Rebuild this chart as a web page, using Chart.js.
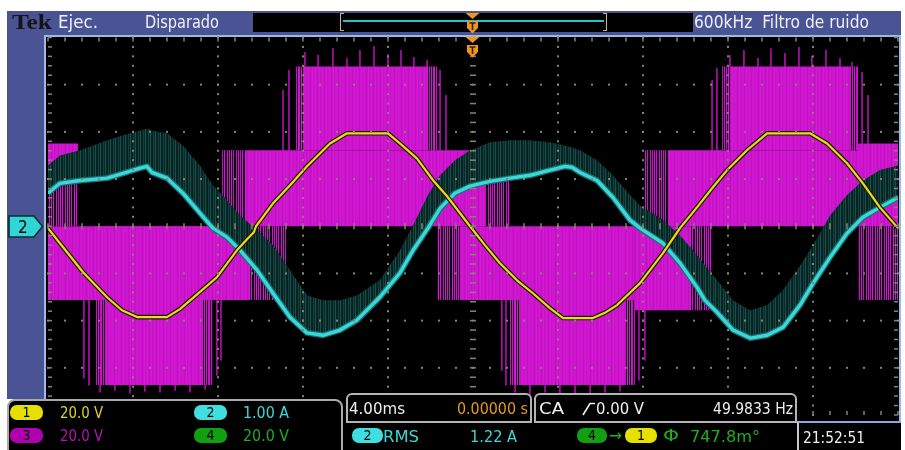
<!DOCTYPE html>
<html><head><meta charset="utf-8">
<title>Tek scope</title>
<script src="https://cdn.jsdelivr.net/npm/chart.js@4.4.1/dist/chart.umd.min.js"></script>
<style>
html,body{margin:0;padding:0;background:#fff;}
#wrap{position:relative;width:905px;height:450px;overflow:hidden;background:#fff;}
.b{position:absolute;}
.t{position:absolute;white-space:nowrap;line-height:1;font-family:"DejaVu Sans Condensed","Liberation Sans Narrow","DejaVu Sans",sans-serif;transform-origin:0 0;}
.pill{position:absolute;height:15px;border-radius:7px;color:#000;font-family:"DejaVu Sans Condensed","DejaVu Sans",sans-serif;font-size:14px;line-height:15px;text-align:center;}
</style></head><body>
<div id="wrap">
 <div class="b" style="left:7px;top:11px;width:894px;height:24px;background:#4a5494"></div>
 <div class="b" style="left:7px;top:11px;width:38px;height:388px;background:#4a5494"></div>
 <div class="b" style="left:44px;top:35px;width:853px;height:389px;background:#000;border:2px solid #9db9e6;border-bottom:none;"></div>
 <canvas id="c" width="905" height="450" class="b" style="left:0;top:0"></canvas>

 <!-- header -->
 <div class="b" style="left:253px;top:13px;width:440px;height:19px;background:#000"></div>
 <div class="b" style="left:343px;top:20px;width:261px;height:2px;background:#22c4c4"></div>
 <div class="b" style="left:340px;top:13px;width:4px;height:18px;border:1.5px solid #c9b49a;border-right:none;box-sizing:border-box"></div>
 <div class="b" style="left:603px;top:13px;width:4px;height:18px;border:1.5px solid #c9b49a;border-left:none;box-sizing:border-box"></div>
 <svg class="b" style="left:465px;top:13px" width="15" height="21" viewBox="0 0 15 21"><path d="M0.5 0 L14.5 0 L7.5 6 Z" fill="#f0961a"/><path d="M2 8 L13 8 L13 15 L7.5 20.5 L2 15 Z" fill="#f0961a"/><path d="M4.5 10 L10.5 10 M7.5 10 L7.5 17" stroke="#3a2000" stroke-width="1.6"/></svg>
 <svg class="b" style="left:465px;top:37px" width="15" height="21" viewBox="0 0 15 21"><path d="M0.5 0 L14.5 0 L7.5 6 Z" fill="#f0961a"/><path d="M2 8 L13 8 L13 15 L7.5 20.5 L2 15 Z" fill="#f0961a"/><path d="M4.5 10 L10.5 10 M7.5 10 L7.5 17" stroke="#3a2000" stroke-width="1.6"/></svg>
 <span class="t" data-w="40" style="left:12px;top:12px;font-size:21px;font-family:'Liberation Serif','DejaVu Serif',serif;font-weight:bold;color:#141414">Tek</span>
 <span class="t" data-w="40" style="left:58px;top:14px;font-size:17px;color:#eef0fa">Ejec.</span>
 <span class="t" data-w="74" style="left:145px;top:14px;font-size:17px;color:#eef0fa">Disparado</span>
 <span class="t" data-w="175" style="left:694px;top:14px;font-size:17px;color:#eef0fa">600kHz&nbsp; Filtro de ruido</span>

 <!-- ch2 marker -->
 <svg class="b" style="left:8px;top:215px" width="36" height="23" viewBox="0 0 36 23"><polygon points="1,1 26,1 34.5,11.5 26,22 1,22" fill="#30d6d6" stroke="#0b2e2e" stroke-width="1.6"/><text x="10" y="18" font-size="17" font-family="DejaVu Sans Condensed, DejaVu Sans, sans-serif" fill="#000">2</text></svg>

 <!-- bottom readouts -->
 <div class="b" style="left:7px;top:399px;width:332px;height:60px;background:#000;border:2px solid #a9a9a9;border-radius:8px 8px 0 0"></div>
 <div class="b" style="left:346px;top:393px;width:182px;height:26px;background:#000;border:2px solid #b4b4b4;border-radius:6px 6px 0 0"></div>
 <div class="b" style="left:534px;top:393px;width:259px;height:26px;background:#000;border:2px solid #b4b4b4;border-radius:6px 6px 0 0"></div>
 <div class="b" style="left:343px;top:423px;width:455px;height:27px;background:#000"></div>
 <div class="b" style="left:797px;top:421px;width:104px;height:29px;background:#000;border-left:2px solid #c8c8c8;border-top:2px solid #8fa6df;box-sizing:border-box"></div>

 <div class="pill" style="left:10px;top:405px;width:33px;background:#e6e000">1</div>
 <div class="pill" style="left:10px;top:428px;width:33px;background:#b000b0">3</div>
 <div class="pill" style="left:194px;top:405px;width:33px;background:#40dede">2</div>
 <div class="pill" style="left:194px;top:428px;width:33px;background:#12a012">4</div>
 <div class="pill" style="left:352px;top:428px;width:31px;background:#40dede">2</div>
 <div class="pill" style="left:577px;top:428px;width:30px;background:#12a012">4</div>
 <div class="pill" style="left:625px;top:428px;width:32px;background:#e6e000">1</div>

 <span class="t" data-w="43" style="left:60px;top:406px;font-size:15px;color:#ddd51e">20.0 V</span>
 <span class="t" data-w="46" style="left:243px;top:406px;font-size:15px;color:#3ad8d8">1.00 A</span>
 <span class="t" data-w="43" style="left:60px;top:429px;font-size:15px;color:#b414b4">20.0 V</span>
 <span class="t" data-w="46" style="left:243px;top:429px;font-size:15px;color:#1eae1e">20.0 V</span>
 <span class="t" data-w="56" style="left:349px;top:401px;font-size:16px;color:#f0f0f0">4.00ms</span>
 <span class="t" data-w="71" style="left:457px;top:401px;font-size:16px;color:#e69a1e">0.00000 s</span>
 <span class="t" data-w="25" style="left:539px;top:401px;font-size:16px;color:#f0f0f0">CA</span>
 <svg class="b" style="left:582px;top:402px" width="14" height="14" viewBox="0 0 14 14"><path d="M1 13 L8 1.5 L13 1.5" stroke="#f0f0f0" stroke-width="1.6" fill="none"/></svg>
 <span class="t" data-w="48" style="left:596px;top:401px;font-size:16px;color:#f0f0f0">0.00 V</span>
 <span class="t" data-w="80" style="left:713px;top:401px;font-size:16px;color:#f0f0f0">49.9833 Hz</span>
 <span class="t" data-w="36" style="left:383px;top:429px;font-size:16px;color:#3ad8d8">RMS</span>
 <span class="t" data-w="47" style="left:470px;top:429px;font-size:16px;color:#3ad8d8">1.22 A</span>
 <span class="t" data-w="13" style="left:609px;top:428px;font-size:16px;color:#1eae1e">→</span>
 <span class="t" data-w="16" style="left:663px;top:428px;font-size:16px;color:#1eae1e">Φ</span>
 <span class="t" data-w="70" style="left:690px;top:429px;font-size:16px;color:#1eae1e">747.8m°</span>
 <span class="t" data-w="62" style="left:803px;top:430px;font-size:16px;color:#f0f0f0">21:52:51</span>
</div>
<script>
// ---------- data (time in ms, values in V / A) ----------
const ch1VoltsPerDiv = 20, ch2AmpsPerDiv = 1, ch3VoltsPerDiv = 20;

// Ch1 (yellow) voltage
const ch1Time = [-20.0,-19.44,-18.35,-17.22,-16.52,-15.81,-14.40,-13.79,-13.08,-12.05,-11.11,-10.59,-10.31,-10.21,-9.41,-8.61,-7.81,-6.73,-5.93,-4.00,-3.44,-2.64,-1.88,-1.22,-0.14,0.56,1.27,2.07,2.82,3.62,4.24,5.65,6.26,6.78,7.86,8.94,9.74,10.54,11.25,11.95,12.89,13.84,15.86,16.66,17.60,18.35,19.15,20.0];
const ch1Volts = [-0.8,-7.2,-19.5,-30.1,-35.6,-38.5,-38.5,-35.1,-29.6,-21.6,-10.2,-5.1,-2.5,0,9.7,17.4,25.4,35.1,39.4,39.4,35.1,28.8,19.5,12.7,0,-8.0,-15.7,-22.9,-28.4,-34.7,-38.9,-38.9,-36.4,-33.4,-24.1,-11.4,-0.8,8.0,16.1,23.7,32.2,39.4,39.4,35.1,26.7,18.2,8.0,-0.8];

// Ch2 (cyan) current and the upper edge of its switching noise
const ch2Time = [-20.0,-19.44,-18.49,-17.22,-16.47,-15.67,-15.34,-15.11,-14.40,-13.65,-12.85,-12.24,-11.58,-10.96,-10.16,-9.41,-8.61,-7.81,-7.06,-6.26,-5.46,-4.38,-3.44,-2.82,-2.12,-1.55,-0.85,-0.14,0.80,1.74,2.68,3.62,4.33,4.66,5.04,5.84,6.59,7.39,7.86,8.94,9.74,10.54,10.92,11.48,12.24,13.04,13.84,14.59,15.39,16.00,16.80,17.60,18.35,19.15,20.0];
const ch2Amps = [0.70,0.91,0.97,1.02,1.12,1.23,1.27,1.14,1.02,0.70,0.28,-0.04,-0.23,-0.51,-0.93,-1.42,-1.93,-2.26,-2.31,-2.20,-1.99,-1.50,-0.99,-0.51,-0.04,0.38,0.70,0.85,0.95,1.02,1.08,1.19,1.27,1.25,1.14,0.97,0.61,0.13,-0.04,-0.36,-0.78,-1.29,-1.57,-1.82,-2.20,-2.37,-2.31,-2.14,-1.67,-1.21,-0.66,-0.15,0.19,0.40,0.61];
const ch2NoiseAmps = [1.29,1.50,1.61,1.82,1.93,2.03,2.07,2.03,1.97,1.71,1.29,0.87,0.55,0.23,-0.08,-0.40,-0.93,-1.46,-1.57,-1.57,-1.46,-1.14,-0.51,0.02,0.66,1.08,1.40,1.61,1.78,1.82,1.82,1.78,1.71,1.67,1.61,1.40,1.08,0.66,0.44,0.13,-0.19,-0.61,-0.83,-1.14,-1.57,-1.78,-1.67,-1.35,-0.83,-0.40,0.23,0.66,0.97,1.19,1.29];

// Ch3 (magenta) multilevel PWM: envelope blocks (start ms, end ms, high V, low V)
const ch3BlockStart = [-20.0,-17.79,-20.0,-11.81,-8.38,-1.69,7.62,1.74,8.09,18.12,11.72,18.12];
const ch3BlockEnd   = [-8.75,-12.24,-18.59,1.74,-1.69,7.62,11.25,7.62,20.0,20.0,18.12,20.0];
const ch3BlockHigh  = [0,0,35.1,32.2,67.7,0,0,-31.3,32.2,35.1,67.7,0];
const ch3BlockLow   = [-31.3,-67.3,0,0,32.2,-31.3,-35.6,-67.3,0,0,32.2,-31.3];
// sparse (partly switching) zones: start, end, high V, low V, share of empty columns
const ch3SparseStart = [-20.0,-11.81,-10.49,-1.69,0.56,8.09,10.21,18.12,-17.79,-12.71,1.74,7.15,-8.38,-2.12,11.72,17.74];
const ch3SparseEnd   = [-18.59,-10.73,-8.75,-0.61,1.74,9.18,11.25,20.0,-17.32,-12.24,2.21,7.62,-8.00,-1.69,12.09,18.12];
const ch3SparseHigh  = [25.8,32.2,0,0,32.2,32.2,0,0,-31.3,-31.3,-31.3,-31.3,67.7,67.7,67.7,67.7];
const ch3SparseLow   = [0,0,-31.3,-31.3,0,0,-35.6,-31.3,-67.3,-67.3,-67.3,-67.3,32.2,32.2,32.2,32.2];
const ch3SparseGap   = [0.55,0.5,0.45,0.45,0.5,0.45,0.5,0.45,0.4,0.4,0.4,0.4,0.4,0.4,0.4,0.4];
// isolated switching spikes: time, top V, bottom V
const ch3SpikeTime = [-7.91,-7.29,-6.59,-5.93,-5.32,-4.66,-4.00,-3.39,-2.78,-2.16,-8.94,-8.66,-1.55,-1.27,12.09,12.75,13.41,14.02,14.68,15.34,15.95,16.61,17.27,17.84,11.25,11.48,18.31,18.59,-17.55,-16.85,-16.14,-15.44,-14.73,-14.02,-13.32,-12.61,-18.31,-18.07,-12.05,-11.86,1.98,2.68,3.39,4.09,4.80,5.51,6.21,6.92,1.36,1.55,7.81,8.09];
const ch3SpikeTop  = [73.7,72.4,75.3,71.1,74.5,76.2,72.8,74.5,71.5,70.3,57.6,66.0,66.0,55.4,72.4,74.5,71.1,75.3,73.2,75.8,72.0,74.5,71.1,69.4,61.8,66.9,65.2,55.4,-67.3,-67.3,-67.3,-67.3,-67.3,-67.3,-67.3,-67.3,-31.3,-31.3,-31.3,-31.3,-67.3,-67.3,-67.3,-67.3,-67.3,-67.3,-67.3,-67.3,-31.3,-31.3,-35.6,-35.6];
const ch3SpikeBot  = [67.7,67.7,67.7,67.7,67.7,67.7,67.7,67.7,67.7,67.7,32.2,32.2,32.2,32.2,67.7,67.7,67.7,67.7,67.7,67.7,67.7,67.7,67.7,67.7,32.2,32.2,35.1,35.1,-70.3,-69.4,-70.7,-69.8,-70.3,-69.4,-70.3,-69.0,-64.3,-67.3,-63.1,-56.7,-70.3,-71.1,-70.3,-71.5,-70.7,-71.1,-70.3,-69.8,-61.0,-67.3,-65.2,-56.7];

// ---------- styles: vertical striping like the scope's persistence display ----------
function stripes(cols){
  const c = document.createElement('canvas'); c.width = cols.length; c.height = 1;
  const g = c.getContext('2d');
  cols.forEach((col, i) => { g.fillStyle = col; g.fillRect(i, 0, 1, 1); });
  return g.createPattern(c, 'repeat');
}
const magFill = stripes(['#d018d0','#cc14cc','#c410c4','#cc14cc','#d41cd4','#c812c8','#ce16ce']);
const noiseFill = stripes(['#164f4b','#0a2624','#08201f','#11413e','#0a2826']);
function gapFill(share){
  const n = 9, cols = [];
  for (let i = 0; i < n; i++) cols.push(((i * 4) % n) < share * n ? 'rgba(0,0,0,0.92)' : 'rgba(0,0,0,0)');
  return stripes(cols);
}

// ---------- build datasets ----------
const pts = (ts, vs, per) => ts.map((t, i) => ({x: t, y: vs[i] / per}));
const MAG = '#cc12cc';
const datasets = [];
datasets.push({label:'CH1', data: pts(ch1Time, ch1Volts, ch1VoltsPerDiv), borderColor:'#e6dc22', borderWidth:2.2, order:0, fill:false});
datasets.push({label:'CH1 edge', data: pts(ch1Time, ch1Volts, ch1VoltsPerDiv), borderColor:'#1e1a00', borderWidth:4.6, order:1, fill:false});
const cyanIndex = datasets.length;
datasets.push({label:'CH2', data: pts(ch2Time, ch2Amps, ch2AmpsPerDiv), borderColor:'#3ad8d8', borderWidth:3.4, order:2, fill:false});
datasets.push({label:'CH2 halo', data: pts(ch2Time, ch2Amps, ch2AmpsPerDiv), borderColor:'#1b7070', borderWidth:6, order:3, fill:false});
datasets.push({label:'CH2 noise', data: pts(ch2Time, ch2NoiseAmps, ch2AmpsPerDiv), borderColor:'rgba(0,0,0,0)', borderWidth:0, backgroundColor: noiseFill, order:4, fill: cyanIndex});
const spikes = [];
ch3SpikeTime.forEach((t, i) => {
  spikes.push({x:t, y:ch3SpikeTop[i]/ch3VoltsPerDiv});
  spikes.push({x:t, y:ch3SpikeBot[i]/ch3VoltsPerDiv});
  spikes.push({x:t, y:null});
});
datasets.push({label:'CH3 spikes', data: spikes, borderColor: MAG, borderWidth:1.4, spanGaps:false, order:12, fill:false});
ch3SparseStart.forEach((t0, i) => {
  datasets.push({label:'CH3 sparse', data:[{x:t0, y:ch3SparseHigh[i]/ch3VoltsPerDiv},{x:ch3SparseEnd[i], y:ch3SparseHigh[i]/ch3VoltsPerDiv}],
    borderWidth:0, borderColor:'rgba(0,0,0,0)', backgroundColor: gapFill(ch3SparseGap[i]), fill:{value: ch3SparseLow[i]/ch3VoltsPerDiv}, order:15});
});
ch3BlockStart.forEach((t0, i) => {
  datasets.push({label:'CH3', data:[{x:t0, y:ch3BlockHigh[i]/ch3VoltsPerDiv},{x:ch3BlockEnd[i], y:ch3BlockHigh[i]/ch3VoltsPerDiv}],
    borderWidth:0, borderColor:'rgba(0,0,0,0)', backgroundColor: magFill, fill:{value: ch3BlockLow[i]/ch3VoltsPerDiv}, order:20});
});

// ---------- graticule ----------
const graticule = {
  id:'graticule',
  afterDatasetsDraw(chart){
    const {ctx, chartArea:a, scales:{x, y}} = chart;
    ctx.save();
    ctx.fillStyle = '#85856f';
    const xs = [], ys = [];
    for (let i = 0; i <= 50; i++) xs.push(x.getPixelForValue(-20 + i * 0.8));
    for (let j = 0; j <= 40; j++) ys.push(y.getPixelForValue(-4 + j * 0.2));
    for (let k = 1; k < 10; k++) { if (k === 5) continue; const px = x.getPixelForValue(-20 + k * 4); ys.forEach(py => ctx.fillRect(px - 1, py - 1, 2, 2)); }
    for (let k = 1; k < 8; k++) { if (k === 4) continue; const py = y.getPixelForValue(-4 + k); xs.forEach(px => ctx.fillRect(px - 1, py - 1, 2, 2)); }
    const cx = x.getPixelForValue(0), cy = y.getPixelForValue(0);
    ys.forEach(py => ctx.fillRect(cx - 3, py - 0.75, 6, 1.5));
    xs.forEach(px => ctx.fillRect(px - 0.75, cy - 3, 1.5, 6));
    xs.forEach(px => { ctx.fillRect(px - 0.75, a.top, 1.5, 4); ctx.fillRect(px - 0.75, a.bottom - 4, 1.5, 4); });
    ys.forEach(py => { ctx.fillRect(a.left, py - 0.75, 4, 1.5); ctx.fillRect(a.right - 4, py - 0.75, 4, 1.5); });
    ctx.restore();
  }
};

new Chart(document.getElementById('c'), {
  type:'line',
  data:{datasets},
  options:{
    responsive:false, animation:false, devicePixelRatio:1, events:[],
    layout:{padding:{left:48, right:7, top:37.5, bottom:35}},
    scales:{
      x:{type:'linear', min:-20, max:20, display:false},
      y:{type:'linear', min:-4, max:4, display:false}
    },
    elements:{point:{radius:0}, line:{tension:0, borderJoinStyle:'round', borderCapStyle:'butt'}},
    plugins:{legend:{display:false}, tooltip:{enabled:false}}
  },
  plugins:[graticule]
});

// fit readout text widths to the instrument's condensed font
document.querySelectorAll('[data-w]').forEach(el => {
  const w = el.getBoundingClientRect().width;
  if (w > 0) el.style.transform = 'scaleX(' + (parseFloat(el.dataset.w) / w) + ')';
});
</script>
</body></html>
